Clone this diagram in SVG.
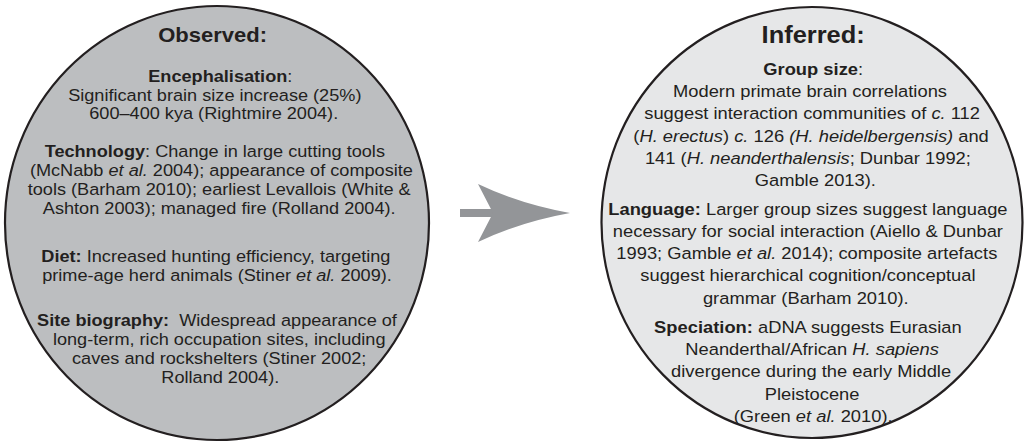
<svg xmlns="http://www.w3.org/2000/svg" width="1026" height="442" viewBox="0 0 1026 442">
<style>
text{font-family:"Liberation Sans",Arial,Helvetica,sans-serif;fill:#231f20;text-anchor:middle}
.l{font-size:16.5px}
.r{font-size:17.3px}
.b{font-weight:bold}
.i{font-style:italic}
.ring{stroke:#231f20;stroke-width:2.2}
</style>
<rect width="1026" height="442" fill="#ffffff"/>
<g id="observed">
<ellipse class="ring" cx="217" cy="223" rx="212" ry="217" fill="#bcbec0"/>
<g transform="translate(217,0) scale(1.1,1)">
<text x="-4" y="42" class="b" style="font-size:20px">Observed:</text>
<text x="3" y="82" class="l"><tspan class="b">Encephalisation</tspan>:</text>
<text x="-2" y="101" class="l">Significant brain size increase (25%)</text>
<text x="-3" y="119" class="l">600–400 kya (Rightmire 2004).</text>
<text x="-2" y="157" class="l"><tspan class="b">Technology</tspan>: Change in large cutting tools</text>
<text x="4" y="176" class="l">(McNabb <tspan class="i">et al.</tspan> 2004); appearance of composite</text>
<text x="2" y="195" class="l">tools (Barham 2010); earliest Levallois (White &amp;</text>
<text x="2" y="214" class="l">Ashton 2003); managed fire (Rolland 2004).</text>
<text x="-1" y="262" class="l"><tspan class="b">Diet:</tspan> Increased hunting efficiency, targeting</text>
<text x="0" y="281" class="l">prime-age herd animals (Stiner <tspan class="i">et al.</tspan> 2009).</text>
<text x="0" y="326" class="l"><tspan class="b">Site biography:</tspan>&#160; Widespread appearance of</text>
<text x="2" y="345" class="l">long-term, rich occupation sites, including</text>
<text x="2" y="364" class="l">caves and rockshelters (Stiner 2002;</text>
<text x="3" y="383" class="l">Rolland 2004).</text>
</g>
</g>
<g id="inferred">
<ellipse class="ring" cx="812" cy="222.5" rx="210.5" ry="215.5" fill="#e6e7e8"/>
<g transform="translate(810,0) scale(1.06,1)">
<text x="3" y="43" class="b" style="font-size:24px">Inferred:</text>
<text x="3" y="75" class="r"><tspan class="b">Group size</tspan>:</text>
<text x="0" y="97" class="r">Modern primate brain correlations</text>
<text x="2" y="119" class="r">suggest interaction communities of <tspan class="i">c.</tspan> 112</text>
<text x="1" y="142" class="r">(<tspan class="i">H. erectus</tspan>) <tspan class="i">c.</tspan> 126 <tspan class="i">(H. heidelbergensis)</tspan> and</text>
<text x="-2" y="164" class="r">141 (<tspan class="i">H. neanderthalensis</tspan>; Dunbar 1992;</text>
<text x="5" y="186" class="r">Gamble 2013).</text>
<text x="-2" y="215" class="r"><tspan class="b">Language:</tspan> Larger group sizes suggest language</text>
<text x="-2" y="237" class="r">necessary for social interaction (Aiello &amp; Dunbar</text>
<text x="-3" y="259" class="r">1993; Gamble <tspan class="i">et al.</tspan> 2014); composite artefacts</text>
<text x="-2" y="281" class="r">suggest hierarchical cognition/conceptual</text>
<text x="-4" y="304" class="r">grammar (Barham 2010).</text>
<text x="-2" y="333" class="r"><tspan class="b">Speciation:</tspan> aDNA suggests Eurasian</text>
<text x="2" y="355" class="r">Neanderthal/African <tspan class="i">H. sapiens</tspan></text>
<text x="1" y="377" class="r">divergence during the early Middle</text>
<text x="2" y="400" class="r">Pleistocene</text>
<text x="3" y="422" class="r">(Green <tspan class="i">et al.</tspan> 2010).</text>
</g>
</g>
<g id="connectors">
<rect x="460" y="209" width="36" height="8" fill="#939598"/>
<path d="M478,184 Q520,204 570,213 Q520,222 478,242 L493,213 Z" fill="#939598"/>
</g>
</svg>
